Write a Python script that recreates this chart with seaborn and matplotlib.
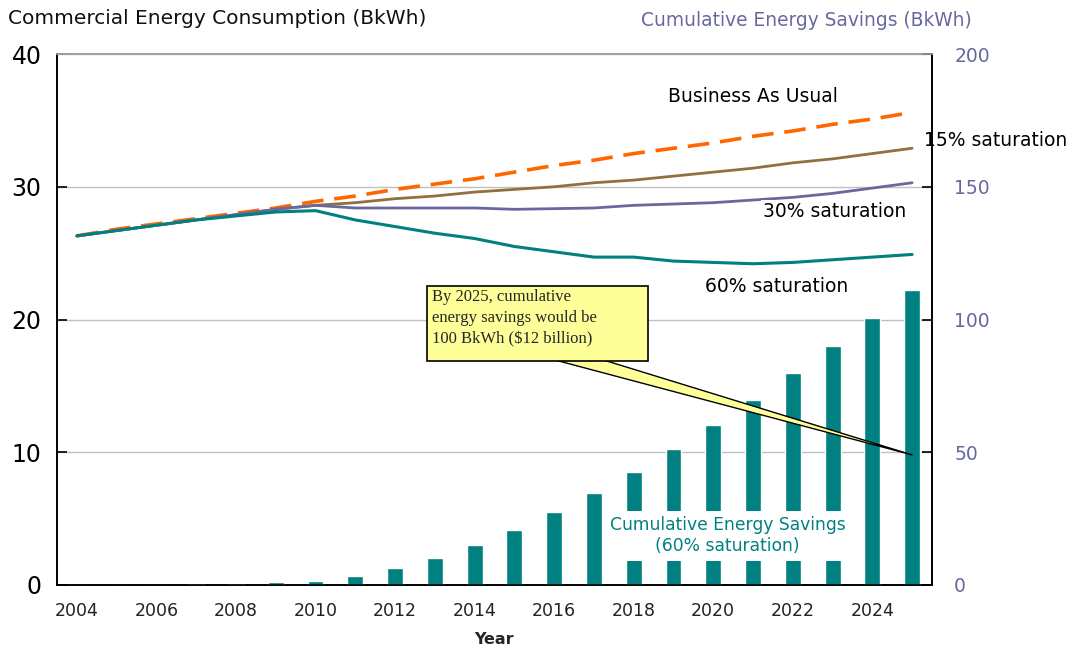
import numpy as np
import pandas as pd
import matplotlib
matplotlib.use("Agg")
import matplotlib.pyplot as plt
from matplotlib.patches import Rectangle
import seaborn as sns

years = list(range(2004, 2026))

# left axis: commercial energy consumption (BkWh)
bau = [26.3, 26.8, 27.2, 27.6, 28.0, 28.4, 28.9, 29.3, 29.8, 30.2, 30.6,
       31.1, 31.6, 32.0, 32.5, 32.9, 33.3, 33.8, 34.2, 34.7, 35.1, 35.6]
sat15 = [26.3, 26.7, 27.1, 27.5, 27.9, 28.3, 28.6, 28.8, 29.1, 29.3, 29.6,
         29.8, 30.0, 30.3, 30.5, 30.8, 31.1, 31.4, 31.8, 32.1, 32.5, 32.9]
sat30 = [26.3, 26.7, 27.1, 27.5, 27.9, 28.3, 28.6, 28.4, 28.4, 28.4, 28.4,
         28.3, 28.35, 28.4, 28.6, 28.7, 28.8, 29.0, 29.2, 29.5, 29.9, 30.3]
sat60 = [26.3, 26.7, 27.1, 27.5, 27.8, 28.1, 28.2, 27.5, 27.0, 26.5, 26.1,
         25.5, 25.1, 24.7, 24.7, 24.4, 24.3, 24.2, 24.3, 24.5, 24.7, 24.9]

# right axis: cumulative energy savings, 60% saturation (BkWh)
savings = [0, 0, 0, 0.6, 0.6, 1.0, 1.6, 3.4, 6.4, 10.2, 15.1,
           20.7, 27.5, 34.7, 42.6, 51.2, 60.3, 69.7, 79.8, 90.0, 100.6, 111.1]

series = ["Business As Usual", "15% saturation", "30% saturation", "60% saturation"]
values = [bau, sat15, sat30, sat60]

TEAL = "#008080"
ORANGE = "#ff6600"
BROWN = "#917040"
PURPLE = "#68689f"
colors = [ORANGE, BROWN, PURPLE, TEAL]
widths = [2.6, 2.0, 2.0, 2.2]

sns.set_theme(style="white")
plt.rcParams["font.family"] = ["DejaVu Sans"]

fig = plt.figure(figsize=(10.75, 6.5), dpi=100)
ax = fig.add_axes([57 / 1075, 1 - 585 / 650, 875 / 1075, 531 / 650])
ax2 = ax.twinx()

bars = pd.DataFrame({"Year": years, "Savings": savings})
sns.barplot(data=bars, x="Year", y="Savings", native_scale=True, width=0.4,
            color=TEAL, saturation=1, errorbar=None, ax=ax2, zorder=2)

for name, vals, c, lw in zip(series, values, colors, widths):
    df = pd.DataFrame({"Year": years, "BkWh": vals})
    sns.lineplot(data=df, x="Year", y="BkWh", color=c, linewidth=lw, ax=ax, zorder=3)
    if name == "Business As Usual":
        ax.lines[-1].set_dashes((6, 3.0))

ax.set_xlim(2003.5, 2025.5)
ax.set_ylim(0, 40)
ax2.set_ylim(0, 200)
ax.set_yticks([0, 10, 20, 30, 40])
ax2.set_yticks([0, 50, 100, 150, 200])
ax.set_xticks(range(2004, 2026, 2))
ax.yaxis.grid(True, color="#c0c0c0", linewidth=1)
ax.set_axisbelow(True)

ax.set_ylabel("")
ax2.set_ylabel("")
ax.set_xlabel("Year", fontsize=11.5, fontweight="bold", labelpad=9)
ax2.set_xlabel("")

for a in (ax, ax2):
    for s in a.spines.values():
        s.set_color("black")
        s.set_linewidth(1.2)
    a.spines["top"].set_color("#a0a0a0")
ax.tick_params(axis="y", direction="in", length=7, width=1.2, left=True,
               labelsize=17, pad=11, colors="black")
ax.tick_params(axis="x", length=0, labelsize=12.5, pad=12, colors="#222222")
ax2.tick_params(axis="y", direction="in", length=7, width=1.2, right=True,
                labelsize=13.5, pad=16, labelcolor=PURPLE, color="black")

fig.text(8 / 1075, 1 - 18 / 650, "Commercial Energy Consumption (BkWh)",
         fontsize=14.5, va="center", ha="left", color="#111111")
fig.text(806 / 1075, 1 - 20 / 650, "Cumulative Energy Savings (BkWh)",
         fontsize=13.4, va="center", ha="center", color=PURPLE)

# series labels
lab_kw = dict(fontsize=13.5, color="black", va="center", ha="center")
ax.text(2021.0, 36.8, "Business As Usual", **lab_kw)
ax.text(2027.1, 33.5, "15% saturation", clip_on=False, **lab_kw)
ax2.text(2023.05, 28.1, "30% saturation", transform=ax.transData, zorder=4,
         bbox=dict(facecolor="white", edgecolor="none", pad=1.5), **lab_kw)
ax.text(2021.6, 22.5, "60% saturation", **lab_kw)

# label over the bars with white box
ax2.text(2020.36, 18.6, "Cumulative Energy Savings\n(60% saturation)", color=TEAL,
         fontsize=12.3, ha="center", va="center", linespacing=1.2, zorder=5,
         bbox=dict(facecolor="white", edgecolor="none", pad=4))

# callout
ax2.annotate("", xy=(2025, 49), xytext=(2015.96, 87.8),
             arrowprops=dict(arrowstyle="wedge,tail_width=0.52", mutation_scale=20,
                             fc="#ffff99", ec="black", lw=1, shrinkA=0, shrinkB=0),
             zorder=6)
ax2.add_patch(Rectangle((0.4229, 0.4218), 0.2525, 0.1413, transform=ax2.transAxes,
                        facecolor="#ffff99", edgecolor="black", lw=1.2, zorder=7))
ax2.text(0.4286, 0.5573, "By 2025, cumulative\nenergy savings would be\n100 BkWh ($12 billion)",
         transform=ax2.transAxes, family=["Liberation Serif"], fontsize=12,
         ha="left", va="top", linespacing=1.42, zorder=8)

fig.savefig("out.png", dpi=100)
